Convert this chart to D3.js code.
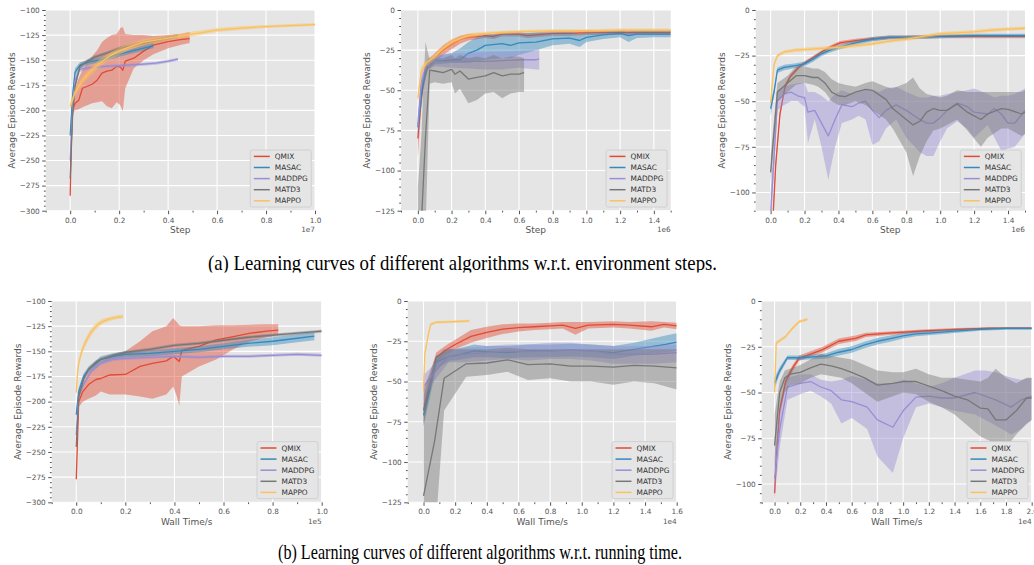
<!DOCTYPE html>
<html>
<head>
<meta charset="utf-8">
<script src="https://cdn.jsdelivr.net/npm/d3@7"></script>
<style>
  body { margin: 0; background: #fff; }
  svg { display: block; }
</style>
</head>
<body>
<svg id="fig" width="1034" height="565"></svg>
<script>
// algorithms, in plotting order
const algos = ["QMIX", "MASAC", "MADDPG", "MATD3", "MAPPO"];

// each row: [x, mean, lower, upper]
// (a) environment steps, SMAC-like task 1, x in 1e7
const a1QMIX = [[0,-285,-290,-278],[0.005,-230,-240,-215],[0.01,-200,-203,-187],[0.02,-193,-200,-178],[0.035,-190,-199,-168],
  [0.05,-178,-197,-160],[0.07,-176,-195,-152],[0.09,-174,-193,-146],[0.11,-170,-192,-140],[0.13,-163,-191,-132],
  [0.15,-161,-196,-128],[0.17,-160,-198,-125],[0.19,-156,-192,-124],[0.205,-157,-195,-118],[0.215,-160,-201,-117],
  [0.225,-151,-178,-124],[0.26,-148,-158,-125],[0.3,-141,-150,-125],[0.34,-135,-144,-126],[0.4,-131.5,-138,-125],
  [0.45,-129.5,-135,-124],[0.488,-128.5,-133,-122]];
const a1MASAC = [[0,-225,-232,-218],[0.01,-185,-190,-180],[0.02,-162,-166,-158],[0.04,-155,-158,-152],[0.08,-151.5,-154,-149],
  [0.12,-150,-152.5,-147.5],[0.2,-144,-146.5,-141.5],[0.25,-141,-143.5,-138.5],[0.3,-138,-140.5,-135.5],[0.34,-135.5,-138,-133]];
const a1MADDPG = [[0,-250,-256,-244],[0.01,-200,-204,-196],[0.02,-170,-173,-167],[0.04,-159,-161.5,-156.5],[0.08,-157.5,-159,-156],
  [0.15,-156,-157.5,-154.5],[0.2,-155.5,-157,-154],[0.3,-154,-155.5,-152.5],[0.35,-153,-154.5,-151.5],[0.4,-151,-152.5,-149.5],
  [0.44,-149,-150.5,-147.5]];
const a1MATD3 = [[0,-268,-274,-262],[0.01,-205,-209,-201],[0.02,-176,-179,-173],[0.04,-156,-158.5,-153.5],[0.07,-151,-153,-149],
  [0.1,-147,-149,-145],[0.15,-143,-145,-141],[0.2,-138.5,-140.5,-136.5],[0.25,-135.5,-137.5,-133.5],[0.3,-133,-135,-131],
  [0.35,-130.5,-132.5,-128.5],[0.44,-126,-128,-124]];
const a1MAPPO = [[0,-196,-200,-192],[0.02,-182,-186,-178],[0.05,-170,-174,-166],[0.08,-162,-166,-158],[0.12,-153,-157,-149],
  [0.16,-146,-149.5,-142.5],[0.2,-141,-144.5,-137.5],[0.25,-136,-139,-133],[0.3,-132,-135,-129],[0.4,-128,-130.5,-125.5],
  [0.5,-124,-126.5,-121.5],[0.6,-120,-122,-118],[0.7,-118,-120,-116],[0.8,-116.5,-118,-115],[0.9,-115.5,-117,-114],[1.0,-114.5,-116,-113]];

// (a) task 2, x in 1e6
const a2QMIX = [[0,-80,-92,-68],[0.02,-55,-62,-48],[0.04,-41,-45,-37],[0.06,-34,-37,-31],[0.1,-30,-33,-27],[0.15,-25,-28,-22],
  [0.2,-21.5,-24.5,-18.5],[0.25,-18.5,-21,-16],[0.3,-17,-19,-15],[0.4,-16,-17.5,-14.5],[0.45,-16.5,-18,-15],[0.5,-15,-16.5,-13.5],
  [0.6,-15,-16.5,-13.5],[0.65,-16,-17.5,-14.5],[0.7,-15.5,-17,-14],[0.8,-14.5,-16,-13],[0.9,-14.5,-16,-13],[1.0,-14,-15.5,-12.5],
  [1.2,-14,-15.5,-12.5],[1.4,-14,-15.5,-12.5],[1.5,-14,-15.5,-12.5]];
const a2MASAC = [[0,-73,-80,-66],[0.03,-45,-50,-40],[0.06,-34,-37,-30],[0.1,-32,-34,-29],[0.2,-31,-33,-27],[0.25,-31,-33,-24],
  [0.3,-27,-33,-20],[0.35,-25,-32,-17],[0.4,-22,-31,-15.5],[0.5,-21,-30,-14.5],[0.55,-22,-30,-14.5],[0.6,-20.5,-28,-14.5],
  [0.7,-20,-25,-14],[0.8,-18,-22,-14],[0.9,-17.5,-21,-13.5],[0.96,-19,-23,-15],[1.0,-17,-20,-14],[1.1,-15.5,-18,-13.5],
  [1.2,-14.5,-17,-13],[1.25,-16,-20,-13.5],[1.3,-15,-17.5,-13],[1.4,-15,-17,-13],[1.5,-15,-17,-13]];
const a2MADDPG = [[0,-72,-78,-66],[0.02,-45,-50,-40],[0.05,-35,-38,-31],[0.1,-32,-35,-28],[0.2,-32,-36,-27],[0.3,-32,-36.5,-27],
  [0.4,-32,-37,-26],[0.5,-31.5,-37,-26],[0.6,-31,-36,-25.5],[0.7,-31,-37,-25],[0.72,-30.5,-37,-24.5]];
const a2MATD3 = [[0,-170,-230,-110],[0.02,-135,-200,-80],[0.045,-80,-140,-20],[0.07,-37.5,-46,-31],[0.1,-38,-45,-30],
  [0.15,-39,-46,-30],[0.2,-37,-45,-28],[0.22,-40,-52,-30],[0.25,-38,-49,-28],[0.3,-43,-58,-30],[0.35,-42,-56,-29],
  [0.4,-41,-52,-30],[0.45,-39,-51,-28],[0.5,-41,-55,-30],[0.55,-40,-52,-29],[0.6,-40,-51,-29],[0.63,-39,-51,-30]];
const a2MAPPO = [[0,-55,-59,-51],[0.02,-38,-41,-35],[0.05,-33,-35,-31],[0.1,-29,-31,-27],[0.15,-24,-26,-22],[0.2,-20,-22,-18],
  [0.3,-16,-17.5,-14.5],[0.4,-14.5,-15.5,-13.5],[0.5,-14,-15,-13],[0.6,-13.5,-14.5,-12.5],[0.8,-13,-14,-12],[1.0,-13,-14,-12],
  [1.2,-12.5,-13.5,-11.5],[1.5,-12.5,-13.5,-11.5]];

// (a) task 3, x in 1e6
const a3QMIX = [[0,-130,-134,-126],[0.015,-112,-115,-109],[0.03,-85,-87,-83],[0.055,-57,-59,-55],[0.085,-42,-43.5,-40.5],
  [0.115,-36.5,-37.5,-35.5],[0.17,-31,-32,-30],[0.21,-28.5,-29.5,-27.5],[0.26,-25.5,-26.5,-24.5],[0.31,-22.5,-23.5,-21.5],
  [0.36,-20,-21,-19],[0.41,-18,-19,-17],[0.5,-16.8,-17.8,-15.8],[0.6,-15.8,-16.8,-14.8],[0.7,-15,-16,-14],[0.8,-15,-16,-14],
  [1.0,-14.5,-15.5,-13.5],[1.2,-14.5,-15.5,-13.5],[1.5,-14.5,-15.5,-13.5]];
const a3MASAC = [[0,-54,-58,-50],[0.02,-45,-47,-43],[0.04,-33,-34.5,-31.5],[0.08,-31.5,-33,-30],[0.15,-30.5,-31.8,-29.2],
  [0.2,-29.5,-30.8,-28.2],[0.25,-27,-28.3,-25.7],[0.3,-24,-25.3,-22.7],[0.35,-22,-23.3,-20.7],[0.4,-20.5,-21.8,-19.2],
  [0.5,-18,-19.2,-16.8],[0.6,-16,-17.2,-14.8],[0.7,-15,-16,-14],[0.8,-15,-16,-14],[1.0,-14.5,-15.5,-13.5],[1.2,-14,-15,-13],
  [1.5,-14,-15,-13]];
const a3MADDPG = [[0,-112,-120,-100],[0.04,-50,-55,-44],[0.08,-46,-52,-42],[0.12,-45,-50,-41],[0.16,-47,-50,-40],[0.2,-48,-53,-40],
  [0.22,-56,-73,-45],[0.26,-55,-60,-45],[0.3,-62,-75,-47],[0.34,-69,-93,-50],[0.38,-60,-75,-46],[0.42,-52,-62,-44],
  [0.48,-53,-60,-46],[0.52,-51,-58,-45],[0.56,-50,-60,-44],[0.6,-55,-74,-44],[0.64,-59,-72,-45],[0.68,-55,-65,-43],
  [0.74,-52,-60,-42],[0.8,-55,-70,-45],[0.88,-60,-78,-48],[0.92,-62,-80,-48],[0.96,-62,-80,-47],[1.0,-59,-72,-47],
  [1.04,-55,-65,-46],[1.1,-51,-61,-45],[1.16,-53,-65,-44],[1.2,-56,-70,-43],[1.28,-57,-63,-46],[1.32,-54,-70,-48],
  [1.36,-57,-77,-47],[1.4,-62,-76,-47],[1.44,-62,-75,-46],[1.5,-55,-68,-43]];
const a3MATD3 = [[0,-89,-95,-80],[0.04,-45,-50,-40],[0.1,-40,-45,-36],[0.15,-36,-41,-31],[0.2,-36,-40,-31],[0.25,-37,-41,-32],
  [0.28,-37,-42,-32],[0.32,-40,-45,-34],[0.36,-45,-50,-38],[0.4,-47,-52,-40],[0.44,-47.5,-52,-41],[0.5,-45,-50,-42],
  [0.56,-43.5,-52,-40],[0.6,-44,-55,-39],[0.68,-49,-60,-42],[0.72,-54,-65,-43],[0.8,-60,-78,-40],[0.84,-63,-91,-37],
  [0.88,-61,-80,-43],[0.92,-56,-72,-46],[0.96,-54,-66,-47],[1.0,-55,-65,-48],[1.04,-55,-63,-47],[1.1,-51.5,-60,-44],
  [1.16,-56,-66,-45],[1.24,-60,-75,-45],[1.28,-57,-70,-45],[1.36,-54,-65,-45],[1.4,-54.5,-65,-45],[1.48,-57,-69,-45],
  [1.5,-56,-68,-44]];
const a3MAPPO = [[0,-51,-54,-48],[0.02,-30,-31.5,-28.5],[0.04,-25,-26,-24],[0.08,-23,-24,-22],[0.15,-22,-23,-21],[0.3,-21,-22,-20],
  [0.4,-20.5,-21.5,-19.5],[0.5,-19.5,-20.5,-18.5],[0.6,-18.5,-19.5,-17.5],[0.7,-17,-18,-16],[0.8,-16,-17,-15],[0.9,-14.5,-15.5,-13.5],
  [1.0,-13,-14,-12],[1.1,-12.5,-13.5,-11.5],[1.2,-12,-13,-11],[1.3,-11,-12,-10],[1.4,-10.5,-11.5,-9.5],[1.5,-10,-11,-9]];

// (b) wall time, task 1, x in 1e5
const b1QMIX = [[0,-277,-285,-270],[0.01,-200,-205,-190],[0.027,-190,-200,-182],[0.05,-183,-197,-170],[0.08,-178,-194,-163],
  [0.1,-177,-190,-160],[0.136,-173.5,-193,-156],[0.2,-173,-193,-150],[0.26,-165,-195,-140],[0.31,-162,-197,-130],
  [0.367,-159.5,-193,-125],[0.395,-155,-185,-117],[0.41,-158,-195,-121],[0.42,-160,-204,-124],[0.43,-149,-175,-125],
  [0.5,-145,-165,-125],[0.57,-138.7,-158,-124],[0.64,-135.4,-148,-124],[0.71,-132,-140,-123.5],[0.776,-130,-136,-123],
  [0.823,-129,-134,-123]];
const b1MASAC = [[0,-213,-218,-208],[0.01,-190,-194,-186],[0.03,-175,-178,-172],[0.05,-168,-171,-165],[0.08,-162,-165,-159],
  [0.1,-158,-161,-155],[0.15,-155,-158,-152],[0.2,-153,-156,-150],[0.3,-152,-155,-149],[0.4,-150,-153,-147],
  [0.5,-148,-151,-145],[0.6,-145,-148,-142],[0.7,-142,-145.5,-138.5],[0.8,-140,-144,-136],[0.9,-137,-141,-133],
  [0.97,-135,-139,-131]];
const b1MADDPG = [[0,-233,-237,-229],[0.01,-195,-198,-192],[0.03,-183,-185,-181],[0.06,-170,-172,-168],[0.1,-162,-163.5,-160.5],
  [0.15,-158,-159.5,-156.5],[0.2,-157,-158.5,-155.5],[0.3,-156,-157.5,-154.5],[0.4,-155,-156.5,-153.5],[0.5,-156,-157.5,-154.5],
  [0.6,-155,-156.5,-153.5],[0.7,-155,-156.5,-153.5],[0.8,-154,-155.5,-152.5],[0.9,-153,-154.5,-151.5],[1.0,-154,-155.5,-152.5]];
const b1MATD3 = [[0,-245,-249,-241],[0.01,-195,-198,-192],[0.03,-178,-180,-176],[0.05,-168,-170,-166],[0.08,-161,-163,-159],
  [0.1,-158,-159.5,-156.5],[0.15,-154,-155.5,-152.5],[0.2,-151,-152.5,-149.5],[0.3,-148,-149.5,-146.5],[0.4,-144,-145.5,-142.5],
  [0.5,-142,-143.5,-140.5],[0.6,-139,-140.5,-137.5],[0.7,-136,-137.5,-134.5],[0.8,-134,-135.5,-132.5],[0.9,-132,-133.5,-130.5],
  [1.0,-130,-131.5,-128.5]];
const b1MAPPO = [[0,-191,-195,-187],[0.005,-172,-176,-168],[0.01,-162,-166,-158],[0.02,-152,-156,-148],[0.03,-145,-149,-141],
  [0.05,-135,-139,-131],[0.07,-128,-131.5,-124.5],[0.09,-123,-126,-120],[0.11,-120,-122.5,-117.5],[0.14,-117.5,-119.5,-115.5],
  [0.17,-116,-118,-114],[0.19,-115.5,-117.5,-113.5]];

// (b) task 2, x in 1e4
const b2QMIX = [[0,-68,-76,-60],[0.08,-35,-38,-32],[0.15,-30,-33,-27],[0.2,-27,-30,-24],[0.3,-22,-26,-18],[0.4,-19.5,-23,-16],
  [0.5,-17.5,-20.5,-14.5],[0.6,-16.5,-19,-14],[0.7,-16,-18,-14],[0.8,-15.5,-17.5,-13.5],[0.88,-15,-17,-13],[0.96,-17,-21,-13],
  [1.04,-15,-17,-13],[1.2,-14.5,-16.5,-12.5],[1.3,-15,-17,-13],[1.44,-16,-18.5,-12.5],[1.52,-14.5,-16.5,-13],[1.6,-15.5,-17.5,-13.5]];
const b2MASAC = [[0,-71,-78,-64],[0.08,-38,-42,-34],[0.17,-34,-37,-30],[0.2,-34,-37,-30],[0.32,-31,-35,-27],[0.4,-31.5,-35,-28],
  [0.53,-32,-35.5,-28],[0.66,-31,-35,-27],[0.8,-31,-35,-27],[0.93,-30.5,-34.5,-26.5],[1.06,-31,-35,-27],[1.2,-32,-36,-28],
  [1.33,-30,-34,-26],[1.46,-28,-32.5,-23],[1.53,-27,-32,-21.5],[1.6,-25.5,-31,-20]];
const b2MADDPG = [[0,-53,-60,-46],[0.08,-43,-48,-38],[0.16,-34,-38,-30],[0.26,-33,-38,-29],[0.4,-32,-37,-28],[0.53,-31,-36,-27],
  [0.66,-31.5,-37,-27],[0.8,-31,-36,-26],[0.93,-30.5,-36,-26],[1.06,-31,-37,-27],[1.2,-33,-39,-28],[1.33,-33,-39,-28],
  [1.46,-33,-39,-28],[1.6,-32,-38,-27]];
const b2MATD3 = [[0,-121,-190,-55],[0.07,-87,-150,-36],[0.13,-48,-68,-30],[0.27,-39,-47,-30],[0.4,-38.5,-46,-30],[0.53,-36.5,-44,-29],
  [0.66,-39.5,-49,-30],[0.8,-39,-48,-30],[0.93,-40.5,-50,-30],[1.06,-40.5,-50,-30],[1.2,-41,-52,-30],[1.33,-40,-50,-30],
  [1.46,-40.5,-51,-30],[1.6,-41.5,-55,-30]];
const b2MAPPO = [[0,-56,-58,-54],[0.008,-33,-35,-31],[0.03,-21,-22.5,-19.5],[0.045,-14.5,-15.5,-13.5],[0.08,-13.2,-14,-12.4],
  [0.15,-13,-13.8,-12.2],[0.29,-12.4,-13.2,-11.6]];

// (b) task 3, x in 1e4
const b3QMIX = [[0,-105,-112,-98],[0.02,-80,-84,-76],[0.04,-60,-63,-57],[0.086,-44,-46,-42],[0.14,-36.7,-38.5,-35],
  [0.19,-31.3,-32.8,-29.8],[0.37,-26.7,-28.2,-25.2],[0.5,-22,-23.5,-20.5],[0.63,-20.4,-21.9,-18.9],[0.71,-18.5,-19.7,-17.3],
  [0.89,-17.6,-18.6,-16.6],[1.15,-16.4,-17.2,-15.6],[1.41,-15.5,-16.2,-14.8],[1.67,-14.9,-15.5,-14.3],[2.0,-14.9,-15.5,-14.3]];
const b3MASAC = [[0,-45,-48,-42],[0.04,-38,-40,-36],[0.1,-31,-32.2,-29.8],[0.2,-31,-32.2,-29.8],[0.3,-30.5,-31.8,-29.2],
  [0.4,-30,-31.5,-28.5],[0.5,-28,-29.8,-26.2],[0.6,-26.5,-28.3,-24.7],[0.7,-24,-25.8,-22.2],[0.8,-22,-23.8,-20.2],
  [0.9,-20.5,-22.2,-18.8],[1.0,-19,-20.5,-17.5],[1.1,-18,-19.3,-16.7],[1.2,-17.5,-18.7,-16.3],[1.4,-16.5,-17.5,-15.5],
  [1.6,-15.5,-16.3,-14.7],[1.8,-15,-15.7,-14.3],[2.0,-15,-15.7,-14.3]];
const b3MADDPG = [[0,-97,-108,-85],[0.04,-70,-80,-60],[0.1,-47,-54,-42],[0.2,-45,-51,-40],[0.28,-44,-49,-40],[0.36,-47,-52,-43],
  [0.44,-49,-56,-44],[0.52,-54,-67,-43],[0.6,-55,-64,-41],[0.72,-58,-70,-43],[0.8,-65,-85,-45],[0.92,-69,-94,-45],
  [1.0,-60,-75,-43],[1.1,-52.5,-58,-45],[1.2,-52,-56,-47],[1.3,-53,-58,-45],[1.4,-53,-60,-42],[1.56,-50,-62,-38],
  [1.64,-52,-65,-38],[1.72,-54,-68,-39],[1.84,-58,-73,-42],[1.92,-54,-70,-43],[2.0,-52,-65,-42]];
const b3MATD3 = [[0,-79,-95,-62],[0.04,-50,-60,-44],[0.08,-42,-50,-38],[0.12,-40,-46,-37],[0.2,-39,-45,-35],[0.28,-36.5,-42,-32],
  [0.36,-34.5,-40,-29],[0.44,-35.5,-41,-30],[0.52,-37,-42,-31],[0.6,-39,-45,-32],[0.7,-42,-50,-35],[0.8,-46,-55,-38],
  [0.92,-45,-52,-39],[1.0,-44,-50,-39],[1.1,-44,-51,-37],[1.2,-46.5,-55,-40],[1.3,-49,-58,-42],[1.4,-52,-62,-42],
  [1.5,-54,-68,-43],[1.6,-58.5,-74,-44],[1.66,-59,-76,-42],[1.72,-65,-78,-37],[1.8,-65,-80,-42],[1.88,-60,-73,-45],
  [1.96,-53,-67,-42],[2.0,-53,-65,-42]];
const b3MAPPO = [[0,-50,-52,-48],[0.013,-23,-24,-22],[0.047,-21.3,-22.2,-20.4],[0.086,-19.5,-20.4,-18.6],[0.138,-15,-15.9,-14.1],
  [0.19,-11.3,-12.1,-10.5],[0.255,-10,-10.8,-9.2]];

// tick values
const xTicks10 = [0, 0.2, 0.4, 0.6, 0.8, 1.0];
const xTicks14 = [0, 0.2, 0.4, 0.6, 0.8, 1.0, 1.2, 1.4];
const xTicks16 = [0, 0.2, 0.4, 0.6, 0.8, 1.0, 1.2, 1.4, 1.6];
const xTicks20 = [0, 0.2, 0.4, 0.6, 0.8, 1.0, 1.2, 1.4, 1.6, 1.8, 2.0];
const yTicks300 = [-300, -275, -250, -225, -200, -175, -150, -125, -100];
const yTicks125 = [-125, -100, -75, -50, -25, 0];
const yTicks100 = [-100, -75, -50, -25, 0];

const captionA = "(a) Learning curves of different algorithms w.r.t. environment steps.";
const captionB = "(b) Learning curves of different algorithms w.r.t. running time.";

const colors = ["#E24A33", "#348ABD", "#988ED5", "#777777", "#FBC15E"];

const panels = [
  { left: 45.7, top: 10, w: 269.3, h: 200.7, xDom: [-0.1, 1.0], yDom: [-300, -100], xTicks: xTicks10, yTicks: yTicks300,
    exp: "1e7", xLabel: "Step", series: [a1QMIX, a1MASAC, a1MADDPG, a1MATD3, a1MAPPO] },
  { left: 401, top: 10, w: 269.7, h: 200.7, xDom: [-0.1, 1.5], yDom: [-125, 0], xTicks: xTicks14, yTicks: yTicks125,
    exp: "1e6", xLabel: "Step", series: [a2QMIX, a2MASAC, a2MADDPG, a2MATD3, a2MAPPO] },
  { left: 755.7, top: 10, w: 269.3, h: 200.7, xDom: [-0.088, 1.5], yDom: [-110, 0], xTicks: xTicks14, yTicks: yTicks100,
    exp: "1e6", xLabel: "Step", series: [a3QMIX, a3MASAC, a3MADDPG, a3MATD3, a3MAPPO] },
  { left: 51.7, top: 301, w: 270, h: 201.3, xDom: [-0.1, 1.0], yDom: [-300, -100], xTicks: xTicks10, yTicks: yTicks300,
    exp: "1e5", xLabel: "Wall Time/s", series: [b1QMIX, b1MASAC, b1MADDPG, b1MATD3, b1MAPPO] },
  { left: 407.7, top: 301, w: 269, h: 201.3, xDom: [-0.1, 1.6], yDom: [-125, 0], xTicks: xTicks16, yTicks: yTicks125,
    exp: "1e4", xLabel: "Wall Time/s", series: [b2QMIX, b2MASAC, b2MADDPG, b2MATD3, b2MAPPO] },
  { left: 761.7, top: 301, w: 270, h: 201.3, xDom: [-0.1, 2.0], yDom: [-110, 0], xTicks: xTicks20, yTicks: yTicks100,
    exp: "1e4", xLabel: "Wall Time/s", series: [b3QMIX, b3MASAC, b3MADDPG, b3MATD3, b3MAPPO] }
];

const SANS = "'DejaVu Sans', sans-serif";
const svg = d3.select("#fig");
svg.append("rect").attr("width", 1034).attr("height", 565).attr("fill", "#fff");
const defs = svg.append("defs");

const fmtY = v => v === 0 ? "0" : (v < 0 ? "\u2212" : "") + Math.abs(v);
const fmtX = d3.format(".1f");

panels.forEach((p, idx) => {
  const g = svg.append("g").attr("transform", `translate(${p.left},${p.top})`);
  const x = d3.scaleLinear().domain(p.xDom).range([0, p.w]);
  const y = d3.scaleLinear().domain(p.yDom).range([p.h, 0]);

  g.append("rect").attr("width", p.w).attr("height", p.h).attr("fill", "#E5E5E5");

  // grid
  g.append("g").selectAll("line").data(p.xTicks).join("line")
    .attr("x1", d => x(d)).attr("x2", d => x(d)).attr("y1", 0).attr("y2", p.h)
    .attr("stroke", "#fff").attr("stroke-width", 1.1);
  g.append("g").selectAll("line").data(p.yTicks).join("line")
    .attr("y1", d => y(d)).attr("y2", d => y(d)).attr("x1", 0).attr("x2", p.w)
    .attr("stroke", "#fff").attr("stroke-width", 1.1);

  // curves
  defs.append("clipPath").attr("id", "clip" + idx)
    .append("rect").attr("width", p.w).attr("height", p.h);
  const plot = g.append("g").attr("clip-path", `url(#clip${idx})`);
  const area = d3.area().x(d => x(d[0])).y0(d => y(d[2])).y1(d => y(d[3]));
  const line = d3.line().x(d => x(d[0])).y(d => y(d[1]));
  p.series.forEach((rows, k) => {
    plot.append("path").datum(rows).attr("d", area)
      .attr("fill", colors[k]).attr("fill-opacity", 0.45);
    plot.append("path").datum(rows).attr("d", line)
      .attr("fill", "none").attr("stroke", colors[k]).attr("stroke-width", 1.3)
      .attr("stroke-linejoin", "round");
  });

  // axes
  const xMinor = d3.range(Math.ceil(p.xDom[0] * 10), Math.floor(p.xDom[1] * 10) + 1)
    .map(v => v / 10).filter(v => Math.round(v * 10) % 2 !== 0);
  const yMinor = d3.range(p.yDom[0], p.yDom[1] + 1, 5).filter(v => v % 25 !== 0);

  const styleAxis = sel => {
    sel.select(".domain").remove();
    sel.attr("font-family", SANS).attr("font-size", 7.3);
    sel.selectAll("line").attr("stroke", "#555");
    sel.selectAll("text").attr("fill", "#555");
  };

  g.append("g").attr("transform", `translate(0,${p.h})`)
    .call(d3.axisBottom(x).tickValues(p.xTicks).tickFormat(fmtX).tickSize(3.5).tickPadding(3.3))
    .call(styleAxis);
  g.append("g").attr("transform", `translate(0,${p.h})`)
    .call(d3.axisBottom(x).tickValues(xMinor).tickFormat("").tickSize(1.8))
    .call(styleAxis);
  g.append("g")
    .call(d3.axisLeft(y).tickValues(p.yTicks).tickFormat(fmtY).tickSize(3.5).tickPadding(2.5))
    .call(styleAxis);
  g.append("g")
    .call(d3.axisLeft(y).tickValues(yMinor).tickFormat("").tickSize(1.8))
    .call(styleAxis);

  // labels
  g.append("text").attr("x", p.w / 2).attr("y", p.h + 22.3).attr("text-anchor", "middle")
    .attr("font-family", SANS).attr("font-size", 9).attr("fill", "#555").text(p.xLabel);
  g.append("text").attr("x", p.w).attr("y", p.h + 21.5).attr("text-anchor", "end")
    .attr("font-family", SANS).attr("font-size", 7.3).attr("fill", "#555").text(p.exp);
  g.append("text").attr("transform", `translate(-31,${p.h / 2}) rotate(-90)`).attr("text-anchor", "middle")
    .attr("font-family", SANS).attr("font-size", 9).attr("fill", "#555").text("Average Episode Rewards");

  // legend
  const lw = 61, lh = 57;
  const lg = g.append("g").attr("transform", `translate(${p.w - 3.7 - lw},${p.h - 3.7 - lh})`);
  lg.append("rect").attr("width", lw).attr("height", lh).attr("rx", 2)
    .attr("fill", "#E5E5E5").attr("stroke", "#CCCCCC").attr("stroke-width", 0.8);
  const items = lg.selectAll("g.item").data(algos).join("g").attr("class", "item")
    .attr("transform", (d, i) => `translate(0,${6.4 + i * 11.1})`);
  items.append("line").attr("x1", 3.5).attr("x2", 19.5).attr("stroke", (d, i) => colors[i]).attr("stroke-width", 1.5);
  items.append("text").attr("x", 24.5).attr("dy", "0.35em")
    .attr("font-family", SANS).attr("font-size", 7.4).attr("fill", "#333").text(d => d);
});

// captions
const SERIF = "'Liberation Serif', 'Times New Roman', serif";
svg.append("text").attr("x", 208).attr("y", 269.5)
  .attr("textLength", 509).attr("lengthAdjust", "spacingAndGlyphs")
  .attr("font-family", SERIF).attr("font-size", 21).attr("fill", "#000").text(captionA);
// the first caption is cut off just under its baseline in the source figure
svg.append("rect").attr("x", 150).attr("y", 272.5).attr("width", 700).attr("height", 14).attr("fill", "#fff");
svg.append("text").attr("x", 278).attr("y", 559)
  .attr("textLength", 404).attr("lengthAdjust", "spacingAndGlyphs")
  .attr("font-family", SERIF).attr("font-size", 21).attr("fill", "#000").text(captionB);
</script>
</body>
</html>
